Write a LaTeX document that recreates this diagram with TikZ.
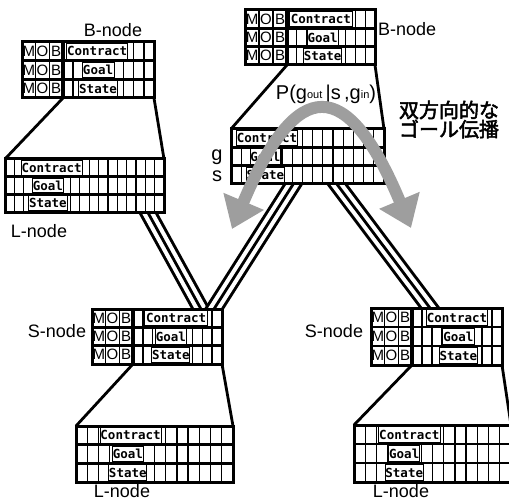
\documentclass[tikz,border=0pt]{standalone}
\usepackage{fontspec}
\setmainfont{Liberation Sans}
\newfontfamily\cjkfont[FakeBold=2.5]{Noto Sans CJK JP}
\newfontfamily\cellfont{DejaVu Sans Mono}
\usetikzlibrary{arrows.meta,fit}
\definecolor{arrowgray}{RGB}{158,158,158}

\tikzset{
 blockfill/.style={fill=white, draw=none, inner sep=0pt, outer sep=0pt},
 cellline/.style={line width=1.3pt, black},
 rowline/.style={line width=2.8pt, black},
 outerline/.style={line width=3pt, black, line join=miter},
 divline/.style={line width=4pt, black},
 labbox/.style={draw=black, line width=0.9pt, fill=white, inner sep=0.3pt, font=\cellfont\bfseries\fontsize{12.5}{13}\selectfont},
 mob/.style={inner sep=0pt, font=\fontsize{15}{15}\selectfont},
 title/.style={font=\fontsize{18}{18}\selectfont, anchor=base, inner sep=0pt},
 zoomline/.style={line width=2.8pt, black},
 cable/.style={draw=black, line width=17pt, postaction={draw=white, line width=11pt}, postaction={draw=black, line width=2.8pt}},
 garrow/.style={draw=arrowgray, line width=12pt, {Triangle[length=30pt,width=42pt]}-{Triangle[length=30pt,width=42pt]}},
}

% MOB block: name, x0, xdiv, x1, ytop, ybot, contract start, contract end, goal start (fractions of right part)
\newcommand\mobblk[9]{%
 \pgfmathsetmacro\rh{(#6-#5)/3}%
 \pgfmathsetmacro\mw{(#3-#2)/3}%
 \pgfmathsetmacro\rw{#4-#3}%
 \node[blockfill, fit={(#2,#5) (#4,#6)}] (#1) {};
 \node[inner sep=0pt, outer sep=0pt, fit={(#2,#5) (#3,#6)}] (#1m) {};
 \node[inner sep=0pt, outer sep=0pt, fit={(#3,#5) (#4,#6)}] (#1r) {};
 \foreach \k in {1,...,8}{\draw[cellline] ({#3+\k*\rw/9},#5) -- ({#3+\k*\rw/9},#6);}
 \foreach \k in {1,2}{\draw[cellline] ({#2+\k*\mw},#5) -- ({#2+\k*\mw},#6);}
 \pgfmathsetmacro\ca{#3+#7*\rw}\pgfmathsetmacro\cbb{#3+#8*\rw}%
 \pgfmathsetmacro\ga{#3+#9*\rw}\pgfmathsetmacro\gb{#3+(#9+0.35)*\rw}%
 \pgfmathsetmacro\cwid{\cbb-\ca}\pgfmathsetmacro\gwid{\gb-\ga}\pgfmathsetmacro\bh{\rh-3}%
 \node[labbox, minimum width=\cwid pt, minimum height=\bh pt] (#1c) at ({(\ca+\cbb)/2},{#5+0.5*\rh}) {Contract};
 \node[labbox, minimum width=\gwid pt, minimum height=\bh pt] (#1g) at ({(\ga+\gb)/2},{#5+1.5*\rh}) {Goal};
 \node[labbox, minimum width=\gwid pt, minimum height=\bh pt] (#1s) at ({(\ga+\gb)/2},{#5+2.5*\rh}) {State};
 \foreach \ltr [count=\j] in {M,O,B}{\foreach \rr in {0,1,2}{\node[mob] (#1\ltr\rr) at ({#2+(\j-0.5)*\mw},{#5+(\rr+0.5)*\rh}) {\ltr};}}
 \draw[rowline] (#2,{#5+\rh}) -- (#4,{#5+\rh}) (#2,{#5+2*\rh}) -- (#4,{#5+2*\rh});
 \draw[divline] (#3,#5) -- (#3,#6);
 \draw[outerline] (#2,#5) rectangle (#4,#6);
}

% L block: name, x0, x1, ytop, ybot, ncells, contract start, contract end, goal start (fractions)
\newcommand\lblk[9]{%
 \pgfmathsetmacro\rh{(#5-#4)/3}%
 \pgfmathsetmacro\bw{#3-#2}%
 \pgfmathsetmacro\nn{int(#6-1)}%
 \node[blockfill, fit={(#2,#4) (#3,#5)}] (#1) {};
 \foreach \k in {1,...,\nn}{\draw[cellline] ({#2+\k*\bw/#6},#4) -- ({#2+\k*\bw/#6},#5);}
 \pgfmathsetmacro\ca{#2+#7*\bw}\pgfmathsetmacro\cbb{#2+#8*\bw}%
 \pgfmathsetmacro\ga{#2+#9*\bw}\pgfmathsetmacro\gb{#2+(#9+0.2)*\bw}%
 \pgfmathsetmacro\cwid{\cbb-\ca}\pgfmathsetmacro\gwid{\gb-\ga}\pgfmathsetmacro\bh{\rh-3}%
 \node[labbox, minimum width=\cwid pt, minimum height=\bh pt] (#1c) at ({(\ca+\cbb)/2},{#4+0.5*\rh}) {Contract};
 \node[labbox, minimum width=\gwid pt, minimum height=\bh pt] (#1g) at ({(\ga+\gb)/2},{#4+1.5*\rh}) {Goal};
 \node[labbox, minimum width=\gwid pt, minimum height=\bh pt] (#1s) at ({(\ga+\gb)/2},{#4+2.5*\rh}) {State};
 \draw[rowline] (#2,{#4+\rh}) -- (#3,{#4+\rh}) (#2,{#4+2*\rh}) -- (#3,{#4+2*\rh});
 \draw[outerline] (#2,#4) rectangle (#3,#5);
}

\begin{document}
\begin{tikzpicture}[x=1pt,y=-1pt]
\useasboundingbox (0,0) rectangle (509,500);

% cables (drawn first, blocks cover their ends)
\coordinate (k1a) at (141,200); \coordinate (k1b) at (207,320);
\coordinate (k2a) at (299,175); \coordinate (k2b) at (207,320);
\coordinate (k3a) at (330,175); \coordinate (k3b) at (439,320);
\draw[cable] (k1a) -- (k1b);
\draw[cable] (k2a) -- (k2b);
\draw[cable] (k3a) -- (k3b);

% blocks
\mobblk{BL}{22}{63}{154}{42}{98}{0.04}{0.71}{0.21}
\mobblk{BR}{245}{287}{375}{10}{65}{0.03}{0.74}{0.23}
\mobblk{SL}{92}{133}{222}{309}{364}{0.13}{0.84}{0.25}
\mobblk{SR}{371}{412}{502}{308}{365}{0.17}{0.83}{0.34}
\lblk{LL}{5}{164}{159}{212}{17}{0.107}{0.48}{0.17}
\lblk{LC}{231}{384}{129}{184}{15}{0.04}{0.43}{0.125}
\lblk{LLL}{76}{233}{426}{482}{14}{0.165}{0.53}{0.23}
\lblk{LRL}{354}{511}{425}{482}{14}{0.155}{0.55}{0.22}

% zoom lines
\draw[zoomline] (BLr.south west) -- (LL.north west) (BLr.south east) -- (LL.north east);
\draw[zoomline] (BRr.south west) -- (LC.north west) (BRr.south east) -- (LC.north east);
\draw[zoomline] (SLr.south west) -- (LLL.north west) (SLr.south east) -- (LLL.north east);
\draw[zoomline] (SRr.south west) -- (LRL.north west) (SRr.south east) -- (LRL.north east);

% titles
\node[title] (tBL) at (113,37) {B-node};
\node[title, anchor=base west] (tBR) at (378,36) {B-node};
\node[title] (tLL) at (39,237) {L-node};
\node[title] (tSL) at (57,337) {S-node};
\node[title] (tSR) at (334,337) {S-node};
\node[title] (tLLL) at (122,497) {L-node};
\node[title] (tLRL) at (401,497) {L-node};

\node[font=\fontsize{20}{20}\selectfont, anchor=base, inner sep=0pt] (gl) at (217,161) {g};
\node[font=\fontsize{20}{20}\selectfont, anchor=base, inner sep=0pt] (sl) at (217,182) {s};

\node[font=\fontsize{20}{20}\selectfont, anchor=base, inner sep=0pt] (formula) at (326,100)
 {P(g\raisebox{1.5pt}{\fontsize{11}{11}\selectfont out}\,|s\,,g\raisebox{1.5pt}{\fontsize{11}{11}\selectfont in})};

% gray bidirectional arrow
\coordinate (ga) at (232,229);
\coordinate (gz) at (411,228);
\draw[garrow] (ga) .. controls (297,75) and (347,75) .. (gz);

\node[font=\cjkfont\fontsize{20}{20}\selectfont, inner sep=0pt] (jp1) at (449,110) {双方向的な};
\node[font=\cjkfont\fontsize{20}{20}\selectfont, inner sep=0pt] (jp2) at (449,129) {ゴール伝播};
\end{tikzpicture}
\end{document}
